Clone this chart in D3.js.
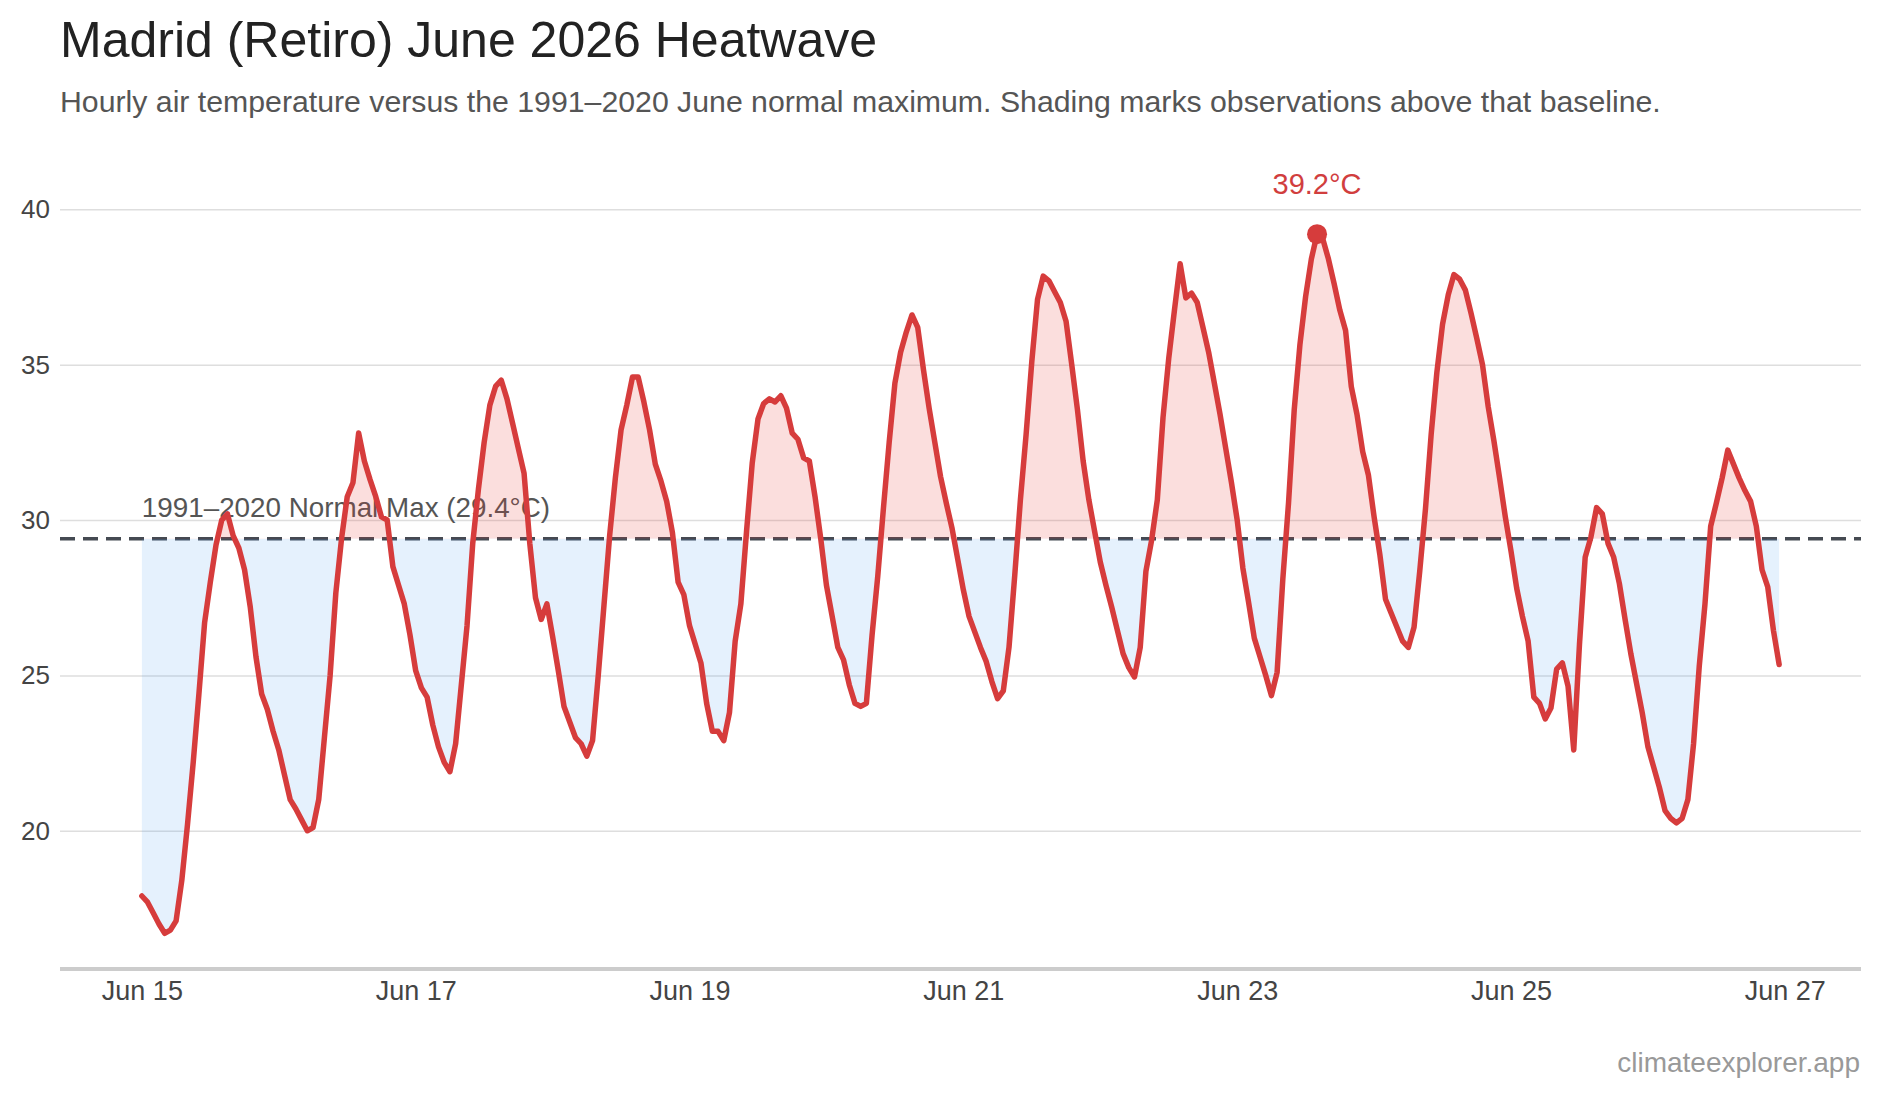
<!DOCTYPE html>
<html>
<head>
<meta charset="utf-8">
<script src="https://cdn.jsdelivr.net/npm/d3@7"></script>
<style>
  body { margin: 0; background: #fff; }
  svg { display: block; font-family: "Liberation Sans", Arial, Helvetica, sans-serif; }
</style>
</head>
<body>
<div id="drawhere"></div>
<script>
// hourly temperatures (°C), one array per day, 00:00 .. 23:00
var jun15 = [17.9, 17.7, 17.35, 17.0, 16.7, 16.8, 17.1, 18.4, 20.2, 22.2, 24.4, 26.7, 28.0, 29.2, 30.0, 30.2, 29.5, 29.1, 28.4, 27.2, 25.6, 24.4, 23.9, 23.2];
var jun16 = [22.6, 21.8, 21.0, 20.7, 20.35, 20.0, 20.1, 21.0, 23.0, 25.0, 27.65, 29.4, 30.75, 31.2, 32.8, 31.9, 31.3, 30.75, 30.1, 30.0, 28.5, 27.9, 27.3, 26.3];
var jun17 = [25.15, 24.6, 24.3, 23.4, 22.7, 22.2, 21.9, 22.8, 24.7, 26.6, 29.25, 31.0, 32.5, 33.7, 34.3, 34.5, 33.9, 33.1, 32.3, 31.5, 29.25, 27.5, 26.8, 27.3];
var jun18 = [26.25, 25.15, 24.0, 23.5, 23.0, 22.8, 22.4, 22.9, 25.0, 27.25, 29.5, 31.35, 32.9, 33.7, 34.6, 34.6, 33.8, 32.9, 31.8, 31.25, 30.6, 29.6, 28.0, 27.6];
var jun19 = [26.6, 26.0, 25.4, 24.1, 23.2, 23.2, 22.9, 23.8, 26.1, 27.3, 29.65, 31.85, 33.25, 33.75, 33.9, 33.8, 34.0, 33.6, 32.8, 32.6, 32.0, 31.9, 30.75, 29.4];
var jun20 = [27.9, 26.9, 25.9, 25.5, 24.7, 24.1, 24.0, 24.1, 26.3, 28.2, 30.4, 32.5, 34.4, 35.4, 36.05, 36.6, 36.2, 34.85, 33.6, 32.5, 31.4, 30.55, 29.75, 28.75];
var jun21 = [27.75, 26.9, 26.4, 25.9, 25.45, 24.8, 24.25, 24.5, 25.9, 28.2, 30.65, 32.75, 35.1, 37.1, 37.85, 37.7, 37.35, 37.0, 36.4, 35.0, 33.55, 31.9, 30.65, 29.65];
var jun22 = [28.65, 27.9, 27.2, 26.45, 25.7, 25.25, 24.95, 25.9, 28.35, 29.35, 30.65, 33.3, 35.2, 36.75, 38.25, 37.15, 37.3, 37.0, 36.2, 35.4, 34.4, 33.4, 32.3, 31.2];
var jun23 = [30.0, 28.45, 27.35, 26.2, 25.6, 25.0, 24.35, 25.1, 28.1, 30.55, 33.55, 35.65, 37.2, 38.4, 39.2, 39.05, 38.4, 37.6, 36.75, 36.1, 34.3, 33.4, 32.2, 31.45];
var jun24 = [30.1, 28.9, 27.45, 27.0, 26.55, 26.1, 25.9, 26.55, 28.35, 30.35, 32.75, 34.75, 36.3, 37.25, 37.9, 37.75, 37.4, 36.65, 35.85, 35.0, 33.65, 32.55, 31.35, 30.1];
var jun25 = [29.0, 27.8, 26.9, 26.1, 24.3, 24.1, 23.6, 23.95, 25.2, 25.4, 24.65, 22.6, 26.0, 28.8, 29.45, 30.4, 30.2, 29.25, 28.8, 27.95, 26.8, 25.7, 24.75, 23.8];
var jun26 = [22.7, 22.05, 21.4, 20.65, 20.4, 20.25, 20.4, 21.0, 22.8, 25.3, 27.3, 29.8, 30.55, 31.35, 32.25, 31.8, 31.35, 30.95, 30.6, 29.8, 28.4, 27.85, 26.45, 25.35];

var startDate = "2026-06-15T00:00:00Z";
var normalMax = 29.4;
var yTicks = [20, 25, 30, 35, 40];
var xTicks = ["2026-06-15", "2026-06-17", "2026-06-19", "2026-06-21", "2026-06-23", "2026-06-25", "2026-06-27"];

var temps = [].concat(jun15, jun16, jun17, jun18, jun19, jun20, jun21, jun22, jun23, jun24, jun25, jun26);
var t0 = new Date(startDate);
var data = temps.map(function (v, i) {
    return { time: d3.utcHour.offset(t0, i), temp: v };
});

var width = 1880, height = 1099;
var plotLeft = 60, plotRight = 1861, plotTop = 147.2, plotBottom = 969;

var svg = d3.select("#drawhere").append("svg")
    .attr("width", width)
    .attr("height", height);

// scales
var tExt = d3.extent(data, function (d) { return d.time; });
var pad = (tExt[1] - tExt[0]) * 0.05;
var x = d3.scaleUtc()
    .domain([new Date(+tExt[0] - pad), new Date(+tExt[1] + pad)])
    .range([plotLeft, plotRight]);
var y = d3.scaleLinear()
    .domain([15.55, 42])
    .range([plotBottom, plotTop]);

// title
svg.append("text")
    .attr("x", 60).attr("y", 56.7)
    .attr("font-size", 50)
    .attr("fill", "#222")
    .text("Madrid (Retiro) June 2026 Heatwave");
svg.append("text")
    .attr("x", 60).attr("y", 111.7)
    .attr("font-size", 30.25)
    .attr("fill", "#555")
    .text("Hourly air temperature versus the 1991\u20132020 June normal maximum. Shading marks observations above that baseline.");

// grid + y labels
var yAxis = svg.append("g")
    .attr("transform", "translate(" + plotLeft + ",0)")
    .call(d3.axisLeft(y).tickValues(yTicks).tickSize(-(plotRight - plotLeft)).tickPadding(10).tickFormat(d3.format("d")));
yAxis.select(".domain").remove();
yAxis.selectAll(".tick line").attr("stroke", "#dedede").attr("stroke-width", 1.5);
yAxis.selectAll(".tick text")
    .attr("font-size", 26)
    .attr("fill", "#444")
    .attr("font-family", "Liberation Sans, Arial, sans-serif");

// x axis
var xAxis = svg.append("g")
    .attr("transform", "translate(0," + plotBottom + ")")
    .call(d3.axisBottom(x)
        .tickValues(xTicks.map(function (s) { return new Date(s + "T00:00:00Z"); }))
        .tickSize(0).tickPadding(12)
        .tickFormat(d3.utcFormat("%b %d")));
xAxis.select(".domain").remove();
xAxis.selectAll(".tick text")
    .attr("font-size", 27)
    .attr("fill", "#444")
    .attr("font-family", "Liberation Sans, Arial, sans-serif")
    .attr("dy", "0.71em");
svg.append("line")
    .attr("x1", plotLeft).attr("x2", plotRight)
    .attr("y1", plotBottom).attr("y2", plotBottom)
    .attr("stroke", "#cccccc")
    .attr("stroke-width", 4);

// baseline
var yb = y(normalMax);
svg.append("line")
    .attr("x1", plotLeft).attr("x2", plotRight)
    .attr("y1", yb).attr("y2", yb)
    .attr("stroke", "#454a52")
    .attr("stroke-width", 3.5)
    .attr("stroke-dasharray", "15,8");
svg.append("text")
    .attr("x", x(data[0].time))
    .attr("y", yb - 22)
    .attr("font-size", 27.8)
    .attr("fill", "#555")
    .text("1991\u20132020 Normal Max (" + normalMax + "\u00b0C)");

// shading above / below the baseline
var defs = svg.append("defs");
defs.append("clipPath").attr("id", "above")
    .append("rect").attr("x", plotLeft).attr("y", plotTop).attr("width", plotRight - plotLeft).attr("height", yb - plotTop);
defs.append("clipPath").attr("id", "below")
    .append("rect").attr("x", plotLeft).attr("y", yb).attr("width", plotRight - plotLeft).attr("height", plotBottom - yb);

var area = d3.area()
    .x(function (d) { return x(d.time); })
    .y0(yb)
    .y1(function (d) { return y(d.temp); });

svg.append("path")
    .datum(data)
    .attr("clip-path", "url(#below)")
    .attr("d", area)
    .attr("fill", "#4a9af0")
    .attr("fill-opacity", 0.14);
svg.append("path")
    .datum(data)
    .attr("clip-path", "url(#above)")
    .attr("d", area)
    .attr("fill", "#e53935")
    .attr("fill-opacity", 0.17);

// temperature line
var line = d3.line()
    .x(function (d) { return x(d.time); })
    .y(function (d) { return y(d.temp); });
svg.append("path")
    .datum(data)
    .attr("d", line)
    .attr("fill", "none")
    .attr("stroke", "#d63c3c")
    .attr("stroke-width", 5.5)
    .attr("stroke-linejoin", "round")
    .attr("stroke-linecap", "round");

// peak marker
var peak = data[d3.maxIndex(data, function (d) { return d.temp; })];
svg.append("circle")
    .attr("cx", x(peak.time))
    .attr("cy", y(peak.temp))
    .attr("r", 10)
    .attr("fill", "#d63c3c");
svg.append("text")
    .attr("x", x(peak.time))
    .attr("y", y(peak.temp) - 40)
    .attr("text-anchor", "middle")
    .attr("font-size", 29)
    .attr("fill", "#d13e3e")
    .text(peak.temp.toFixed(1) + "\u00b0C");

// footer
svg.append("text")
    .attr("x", 1860).attr("y", 1072)
    .attr("text-anchor", "end")
    .attr("font-size", 28)
    .attr("fill", "#999")
    .text("climateexplorer.app");
</script>
</body>
</html>
